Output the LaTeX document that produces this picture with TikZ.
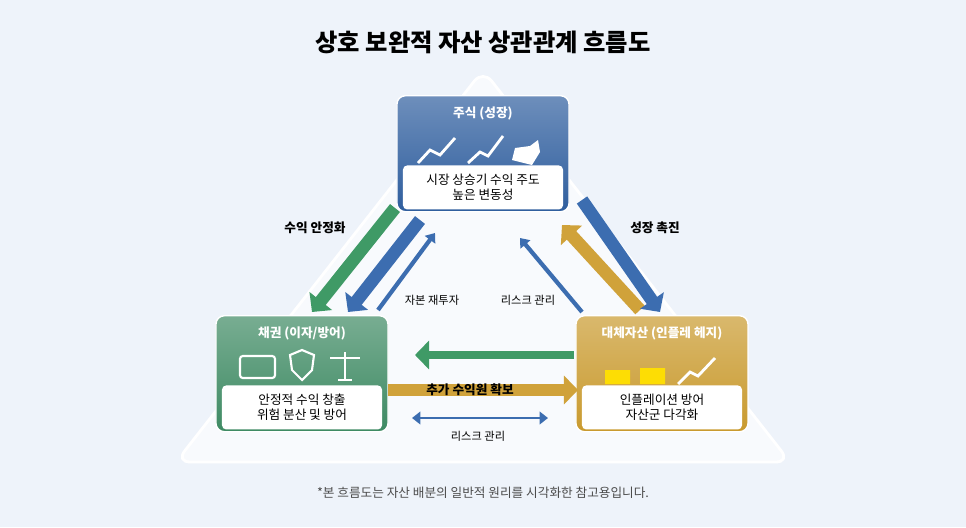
\documentclass[tikz,border=0pt]{standalone}
\usepackage{fontspec}
\setmainfont{Noto Sans CJK KR}
\usetikzlibrary{positioning,arrows.meta,calc}
\definecolor{bgblue}{HTML}{EEF3FA}
\definecolor{stockblue}{HTML}{2F5E9E}
\definecolor{bondgreen}{HTML}{3E8A63}
\definecolor{altgold}{HTML}{C99A2E}
\definecolor{arrowblue}{HTML}{3C6DB0}
\definecolor{arrowgreen}{HTML}{3F9A66}
\definecolor{arrowgold}{HTML}{D0A23A}
\tikzset{
	x=0.025cm, y=-0.025cm,
	every node/.style={align=center},
	head/.style={rounded corners=6pt, draw=white, line width=1pt, text=white, font=\bfseries\small, minimum width=4.3cm, minimum height=2.9cm, anchor=north},
	body/.style={fill=white, rounded corners=3pt, font=\small, minimum width=4cm, minimum height=1.1cm},
	fat/.style={-{Triangle[length=10pt,width=20pt]}, line width=9pt},
	thin/.style={-{Triangle[length=6pt,width=9pt]}, line width=3pt, arrowblue},
	lbl/.style={font=\small\bfseries},
	sml/.style={font=\footnotesize}
}
\begin{document}
\begin{tikzpicture}
	% background
	\fill[bgblue] (0,0) rectangle (966,527);
	\fill[white!60!bgblue, draw=white, line width=2pt, rounded corners=10pt] (483,70) -- (790,462) -- (176,462) -- cycle;
	% title
	\node (title) at (483,42) {\bfseries\LARGE 상호 보완적 자산 상관관계 흐름도};

	% boxes
	\node (stock) [head, top color=stockblue!70, bottom color=stockblue] at (483,95) {};
	\node (bond) [head, top color=bondgreen!70, bottom color=bondgreen] at (302,315) {};
	\node (alt) [head, top color=altgold!70, bottom color=altgold] at (662,315) {};
	\node (stockt) at ($(stock.north)+(0,18)$) [text=white, font=\bfseries\small] {주식 (성장)};
	\node (bondt) at ($(bond.north)+(0,18)$) [text=white, font=\bfseries\small] {채권 (이자/방어)};
	\node (altt) at ($(alt.north)+(0,18)$) [text=white, font=\bfseries\small] {대체자산 (인플레 헤지)};
	\node (stockb) [body] at ($(stock.south)+(0,-25)$) {시장 상승기 수익 주도\\높은 변동성};
	\node (bondb) [body] at ($(bond.south)+(0,-25)$) {안정적 수익 창출\\위험 분산 및 방어};
	\node (altb) [body] at ($(alt.south)+(0,-25)$) {인플레이션 방어\\자산군 다각화};

	% icons
	\draw[white, line width=2pt] (418,163) -- (430,150) -- (440,155) -- (455,138);
	\draw[white, line width=2pt] (468,163) -- (480,152) -- (488,156) -- (503,136);
	\fill[white] (512,160) -- (515,148) -- (530,146) -- (538,140) -- (540,152) -- (532,165) -- cycle;
	\draw[white, line width=1.5pt, rounded corners=2pt] (240,356) rectangle (275,378);
	\draw[white, line width=1.5pt] (290,355) -- (302,350) -- (314,355) -- (312,370) -- (302,380) -- (292,370) -- cycle;
	\draw[white, line width=1.5pt] (345,352) -- (345,380) (330,358) -- (360,358) (338,380) -- (352,380);
	\fill[yellow!80!orange] (605,370) rectangle (630,384) (640,368) rectangle (665,384);
	\draw[white, line width=2pt] (678,384) -- (690,372) -- (698,376) -- (715,358);

	% top-left arrows
	\draw[fat, arrowgreen] (395,208) -- (312,312);
	\draw[fat, arrowblue] (420,220) -- (348,312);
	\draw[thin] (378,310) -- (435,233);
	\node (l1) [lbl] at (315,228) {수익 안정화};
	\node (l2) [sml] at (432,300) {자본 재투자};

	% top-right arrows
	\draw[fat, arrowgold] (640,310) -- (562,225);
	\draw[fat, arrowblue] (582,200) -- (660,312);
	\draw[thin] (582,312) -- (520,238);
	\node (l3) [lbl] at (655,228) {성장 촉진};
	\node (l4) [sml] at (528,300) {리스크 관리};

	% bottom arrows
	\draw[fat, arrowgreen, line width=6pt] (574,355) -- (415,355);
	\draw[fat, arrowgold] (388,390) -- (578,390);
	\node (l5) [lbl] at (470,390) {추가 수익원 확보};
	\draw[thin, {Triangle[length=6pt,width=9pt]}-{Triangle[length=6pt,width=9pt]}, line width=2pt] (412,418) -- (548,418);
	\node (l6) [sml] at (478,436) {리스크 관리};

	% footnote
	\node (note) [font=\small, text=black!70] at (483,493) {*본 흐름도는 자산 배분의 일반적 원리를 시각화한 참고용입니다.};
\end{tikzpicture}
\end{document}
